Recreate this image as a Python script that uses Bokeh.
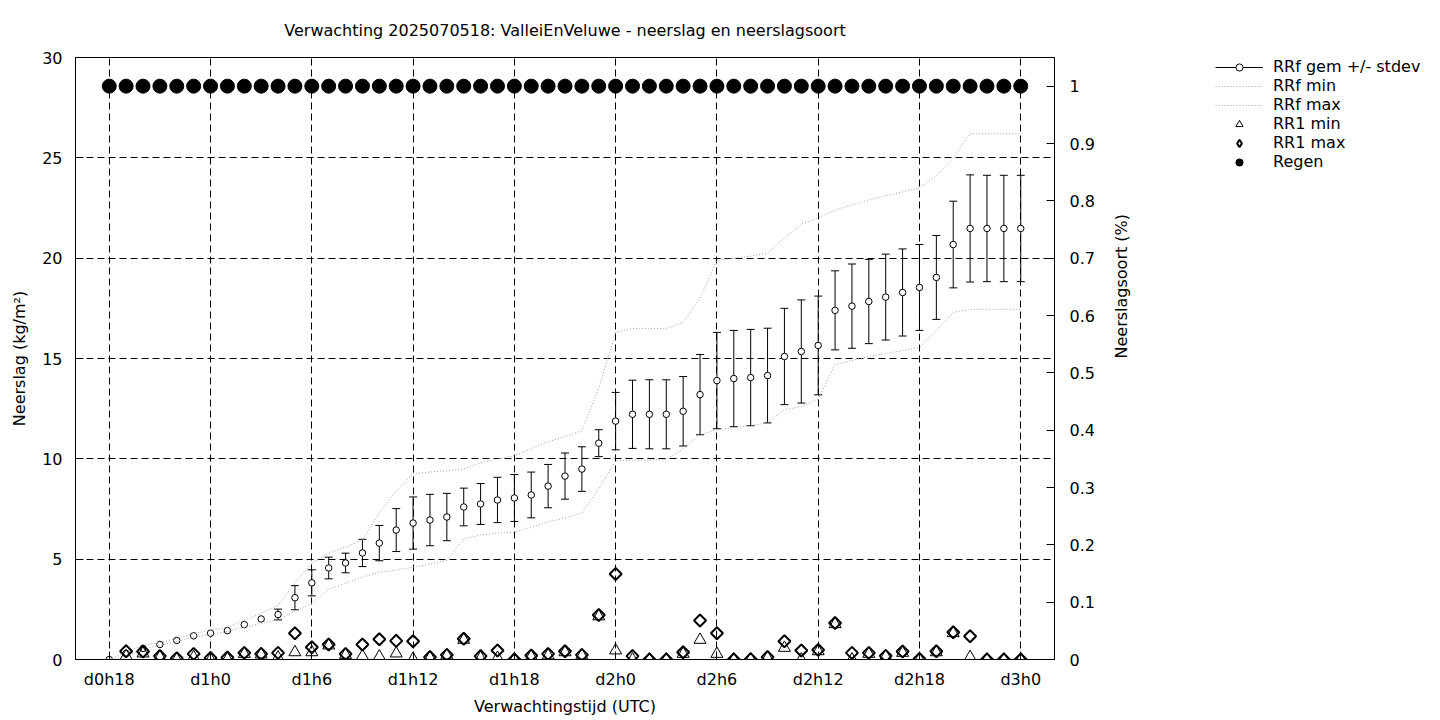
import math
import numpy as np
from bokeh.plotting import figure
from bokeh.layouts import row
from bokeh.models import (Range1d, LinearAxis, FixedTicker, Legend, LegendItem,
                          ColumnDataSource, NumeralTickFormatter)
from bokeh.embed import file_html
from bokeh.resources import INLINE

# ---------------- data ----------------
hours = [18, 19, 20, 21, 22, 23, 24, 25, 26, 27, 28, 29, 30, 31, 32, 33, 34, 35, 36, 37,
         38, 39, 40, 41, 42, 43, 44, 45, 46, 47, 48, 49, 50, 51, 52, 53, 54, 55, 56, 57,
         58, 59, 60, 61, 62, 63, 64, 65, 66, 67, 68, 69, 70, 71, 72]

rrf_mean = [0.0, 0.3, 0.55, 0.75, 0.95, 1.18, 1.31, 1.44, 1.74, 2.02,
            2.24, 3.08, 3.82, 4.56, 4.81, 5.31, 5.8, 6.45, 6.8, 6.95,
            7.1, 7.6, 7.75, 7.95, 8.05, 8.2, 8.64, 9.14, 9.49, 10.78,
            11.88, 12.22, 12.22, 12.22, 12.37, 13.2, 13.9, 14.0, 14.05, 14.15,
            15.1, 15.35, 15.65, 17.4, 17.61, 17.84, 18.06, 18.29, 18.54, 19.04,
            20.68, 21.48, 21.48, 21.48, 21.48]

rrf_sd = [0.0, 0.0, 0.0, 0.0, 0.0, 0.0, 0.0, 0.0, 0.0, 0.0,
          0.27, 0.6, 0.65, 0.54, 0.49, 0.68, 0.88, 1.07, 1.3, 1.28,
          1.18, 0.94, 1.02, 1.13, 1.17, 1.14, 1.08, 1.15, 1.11, 0.67,
          1.43, 1.7, 1.72, 1.72, 1.73, 2.0, 2.4, 2.4, 2.4, 2.36,
          2.4, 2.57, 2.46, 1.97, 2.1, 2.1, 2.14, 2.17, 2.14, 2.09,
          2.16, 2.67, 2.65, 2.65, 2.65]

rrf_min = [0.0, 0.2, 0.5, 0.7, 0.9, 1.1, 1.25, 1.4, 1.6, 1.8,
           1.97, 2.4, 2.8, 3.5, 3.8, 4.1, 4.35, 4.45, 4.6, 4.75,
           4.95, 6.0, 6.2, 6.3, 6.35, 6.6, 6.85, 7.05, 7.3, 8.5,
           9.9, 9.93, 9.95, 9.97, 10.5, 11.2, 11.45, 11.55, 11.65, 11.8,
           12.45, 12.6, 13.0, 14.7, 14.9, 15.1, 15.25, 15.4, 15.55, 16.4,
           17.3, 17.45, 17.45, 17.45, 17.45]

rrf_max = [0.0, 0.4, 0.7, 0.85, 1.05, 1.3, 1.45, 1.6, 1.95, 2.3,
           2.7, 3.8, 4.8, 5.3, 5.6, 5.95, 7.3, 8.4, 9.25, 9.35,
           9.4, 9.5, 9.8, 10.0, 10.15, 10.5, 10.85, 11.1, 11.4, 13.5,
           16.3, 16.5, 16.5, 16.5, 16.8, 18.0, 19.9, 20.0, 20.1, 20.25,
           21.0, 21.7, 22.0, 22.4, 22.65, 22.9, 23.1, 23.3, 23.5, 24.1,
           25.0, 26.2, 26.2, 26.2, 26.2]

rr1_hours = [19, 20, 21, 22, 23, 24, 25, 26, 27, 28, 29, 30, 31, 32, 33, 34, 35, 36, 37,
             38, 39, 40, 41, 42, 43, 44, 45, 46, 47, 48, 49, 50, 51, 52, 53, 54, 55, 56, 57,
             58, 59, 60, 61, 62, 63, 64, 65, 66, 67, 68, 69, 70, 71, 72]

rr1_min = [0.17, 0.3, 0.12, 0.0, 0.12, 0.0, 0.02, 0.28, 0.25, 0.1,
           0.36, 0.36, 0.7, 0.23, 0.17, 0.15, 0.3, 0.03, 0.08, 0.2,
           0.98, 0.08, 0.08, 0.0, 0.15, 0.2, 0.36, 0.2, 2.15, 0.45,
           0.0, 0.0, 0.0, 0.28, 0.98, 0.28, 0.0, 0.0, 0.08, 0.58,
           0.0, 0.41, 1.76, 0.0, 0.28, 0.15, 0.33, 0.0, 0.36, 1.31,
           0.12, 0.0, 0.0, 0.0]

rr1_max = [0.41, 0.4, 0.17, 0.07, 0.28, 0.08, 0.1, 0.33, 0.28, 0.33,
           1.31, 0.61, 0.75, 0.28, 0.75, 1.01, 0.93, 0.91, 0.12, 0.23,
           1.03, 0.17, 0.45, 0.0, 0.2, 0.28, 0.41, 0.23, 2.22, 4.26,
           0.17, 0.0, 0.0, 0.36, 1.94, 1.31, 0.0, 0.02, 0.12, 0.91,
           0.45, 0.48, 1.82, 0.33, 0.33, 0.18, 0.4, 0.03, 0.41, 1.36,
           1.16, 0.0, 0.0, 0.0]

regen = [1, 1, 1, 1, 1, 1, 1, 1, 1, 1, 1, 1, 1, 1, 1, 1, 1, 1, 1, 1,
         1, 1, 1, 1, 1, 1, 1, 1, 1, 1, 1, 1, 1, 1, 1, 1, 1, 1, 1, 1,
         1, 1, 1, 1, 1, 1, 1, 1, 1, 1, 1, 1, 1, 1, 1]

x_ticks = [18, 24, 30, 36, 42, 48, 54, 60, 66, 72]
x_tick_labels = ["d0h18", "d1h0", "d1h6", "d1h12", "d1h18",
                 "d2h0", "d2h6", "d2h12", "d2h18", "d3h0"]
y_ticks = [0, 5, 10, 15, 20, 25, 30]
y2_ticks = [0, 0.1, 0.2, 0.3, 0.4, 0.5, 0.6, 0.7, 0.8, 0.9, 1]

legend_labels = ["RRf gem +/- stdev", "RRf min", "RRf max", "RR1 min", "RR1 max", "Regen"]
title_text = "Verwachting 2025070518: ValleiEnVeluwe - neerslag en neerslagsoort"

# ---------------- derived ----------------
mean_a = np.array(rrf_mean)
sd_a = np.array(rrf_sd)
has_err = sd_a > 0
err_src = ColumnDataSource(dict(
    x=np.array(hours)[has_err],
    lo=(mean_a - sd_a)[has_err],
    hi=(mean_a + sd_a)[has_err],
))
main_src = ColumnDataSource(dict(x=hours, mean=rrf_mean, mn=rrf_min, mx=rrf_max, regen=regen))
rr1_src = ColumnDataSource(dict(x=rr1_hours, mn=rr1_min, mx=rr1_max))

FONT = "DejaVu Sans"
FS = "16px"
DOT_COLOR = "#a0a0a0"

# ---------------- main figure ----------------
p = figure(width=1160, height=720, x_range=Range1d(16, 74), y_range=Range1d(0, 30),
           output_backend="svg", toolbar_location=None,
           min_border_left=75, min_border_right=106, min_border_top=56, min_border_bottom=61)
p.extra_y_ranges = {"y2": Range1d(0, 1.05)}
p.background_fill_color = "white"
p.border_fill_color = "white"
p.outline_line_color = "black"
p.outline_line_width = 1
p.outline_line_alpha = 1

p.title.text = title_text
p.title.align = "center"
p.title.text_font = FONT
p.title.text_font_size = FS
p.title.text_font_style = "normal"
p.title.text_color = "black"
p.title.standoff = 36

y2 = LinearAxis(y_range_name="y2", ticker=FixedTicker(ticks=y2_ticks),
                formatter=NumeralTickFormatter(format="0.[0]"),
                axis_label="Neerslagsoort (%)")
for ax in [p.xaxis[0], p.yaxis[0], y2]:
    ax.major_tick_in = 8
    ax.major_tick_out = 0
    ax.minor_tick_line_color = None
    ax.axis_line_color = "black"
    ax.major_tick_line_color = "black"
    ax.major_label_text_font = FONT
    ax.major_label_text_font_size = FS
    ax.major_label_text_color = "black"
    ax.axis_label_text_font = FONT
    ax.axis_label_text_font_size = FS
    ax.axis_label_text_font_style = "normal"
    ax.axis_label_text_color = "black"

p.xaxis.ticker = FixedTicker(ticks=x_ticks)
p.xaxis.major_label_overrides = {t: l for t, l in zip(x_ticks, x_tick_labels)}
p.xaxis.axis_label = "Verwachtingstijd (UTC)"
p.xaxis.major_label_standoff = 10
p.xaxis.axis_label_standoff = 5

p.yaxis.ticker = FixedTicker(ticks=y_ticks)
p.yaxis.axis_label = "Neerslag (kg/m²)"
p.yaxis.major_label_standoff = 13
p.yaxis.axis_label_standoff = 10

y2.major_label_standoff = 15
y2.axis_label_standoff = 24
try:
    y2.axis_label_orientation = math.pi / 2
except Exception:
    pass
p.add_layout(y2, "right")

p.xgrid.ticker = FixedTicker(ticks=x_ticks)
p.ygrid.ticker = FixedTicker(ticks=y_ticks)
for g in [p.xgrid[0], p.ygrid[0]]:
    g.grid_line_color = "black"
    g.grid_line_dash = "7 4"
    g.grid_line_width = 1
    g.grid_line_alpha = 1

# glyph styles (shared with the legend samples)
seg_style = dict(line_color="black", line_width=1)
circ_style = dict(marker="circle", size=6.5, fill_color="white", line_color="black", line_width=1)
dot_style = dict(line_color=DOT_COLOR, line_width=1, line_dash="1 2")
tri_style = dict(marker="triangle", size=12, fill_color=None, line_color="black", line_width=1)
reg_style = dict(marker="circle", size=14, fill_color="black", line_color="black")

p.segment(x0="x", y0="lo", x1="x", y1="hi", source=err_src, **seg_style)
p.scatter(x="x", y="lo", source=err_src, marker="dash", size=8, line_color="black", line_width=1)
p.scatter(x="x", y="hi", source=err_src, marker="dash", size=8, line_color="black", line_width=1)
p.scatter(x="x", y="mean", source=main_src, **circ_style)
p.line(x="x", y="mn", source=main_src, **dot_style)
p.line(x="x", y="mx", source=main_src, **dot_style)
p.scatter(x="x", y="mn", source=rr1_src, **tri_style)
p.scatter(x="x", y="mx", source=rr1_src, marker="square", angle=np.pi / 4, size=8.5,
          fill_color=None, line_color="black", line_width=2)
p.scatter(x="x", y="regen", source=main_src, y_range_name="y2", **reg_style)

# ---------------- legend panel (key only; placeholder rows are NaN, so nothing is plotted) ----
q = figure(width=280, height=720, x_range=Range1d(0, 1), y_range=Range1d(0, 1),
           output_backend="svg", toolbar_location=None,
           x_axis_location=None, y_axis_location=None,
           min_border_left=0, min_border_right=0, min_border_top=0, min_border_bottom=0)
q.outline_line_color = None
q.xgrid.visible = False
q.ygrid.visible = False
q.background_fill_color = "white"
q.border_fill_color = "white"

key_src = ColumnDataSource(dict(x=[np.nan], y=[np.nan]))
k_seg = q.segment(x0="x", y0="y", x1="x", y1="y", source=key_src, **seg_style)
k_circ = q.scatter(x="x", y="y", source=key_src, **circ_style)
k_min = q.line(x="x", y="y", source=key_src, **dot_style)
k_max = q.line(x="x", y="y", source=key_src, **dot_style)
k_tri = q.scatter(x="x", y="y", source=key_src, **tri_style)
k_dia = q.scatter(x="x", y="y", source=key_src, marker="diamond", size=16,
                  fill_color=None, line_color="black", line_width=2)
k_reg = q.scatter(x="x", y="y", source=key_src, **reg_style)

key_renderers = [[k_seg, k_circ], [k_min], [k_max], [k_tri], [k_dia], [k_reg]]
legend = Legend(items=[LegendItem(label=lab, renderers=rs)
                       for lab, rs in zip(legend_labels, key_renderers)],
                location=(55, 488))
legend.border_line_color = None
legend.background_fill_alpha = 0
legend.label_text_font = FONT
legend.label_text_font_size = FS
legend.label_text_color = "black"
legend.glyph_width = 48
legend.glyph_height = 18
legend.label_height = 18
legend.spacing = 0
legend.padding = 0
legend.margin = 0
legend.label_standoff = 10
q.add_layout(legend)

layout = row(p, q, spacing=0)
open("out.html", "w").write(file_html(layout, INLINE))
